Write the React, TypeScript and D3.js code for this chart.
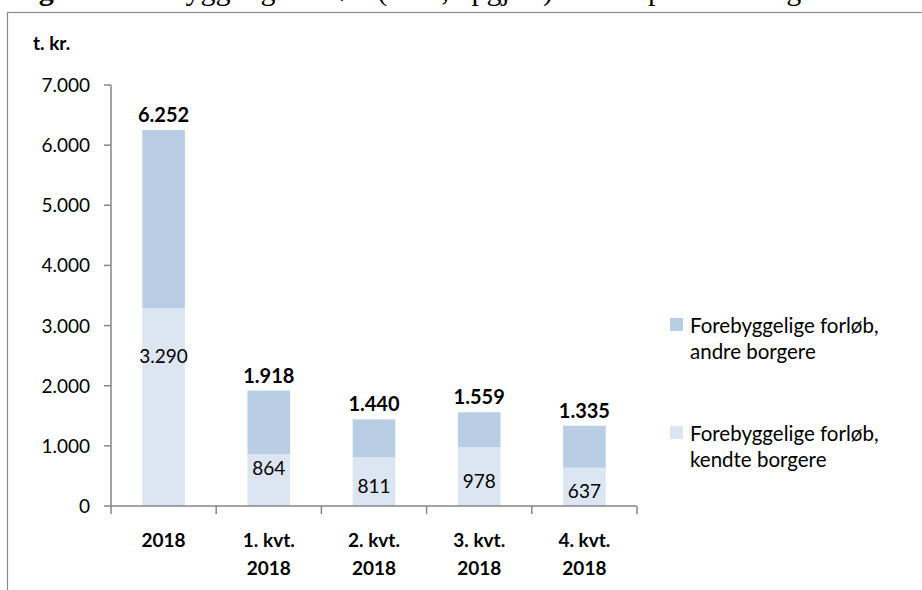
import React from "react";
import * as d3 from "d3";

// Udgifter til forebyggelige forløb, t. kr.
const categoryLines: string[][] = [
  ["2018"],
  ["1. kvt.", "2018"],
  ["2. kvt.", "2018"],
  ["3. kvt.", "2018"],
  ["4. kvt.", "2018"],
];
const kendteBorgere = [3290, 864, 811, 978, 637];
const andreBorgere = [2962, 1054, 629, 581, 698];
const yTicks = [0, 1000, 2000, 3000, 4000, 5000, 6000, 7000];

const legendLines = [
  ["Forebyggelige forløb,", "andre borgere"],
  ["Forebyggelige forløb,", "kendte borgere"],
];

// Manual vertical nudges of the inner value labels (px)
const innerLabelNudge = [-55, -16, 0, 0, 0];

const W = 922;
const H = 590;
const FONT = "Lato, 'Open Sans', sans-serif";
const DARK = "#B9CDE5";
const LIGHT = "#DCE6F2";
const AXIS = "#868686";

const da = d3.formatLocale({
  decimal: ",",
  thousands: ".",
  grouping: [3],
  currency: ["", " kr."],
});
const fmt = da.format(",d");

export default function App() {
  const keys = categoryLines.map((l) => l.join(" "));
  const x = d3.scaleBand<string>().domain(keys).range([111, 637]).padding(0);
  const y = d3.scaleLinear().domain([0, 7000]).range([506, 85]);
  const barW = x.bandwidth() * 0.405;
  const totals = kendteBorgere.map((v, i) => v + andreBorgere[i]);

  return (
    <svg
      width={W}
      height={H}
      style={{ position: "absolute", left: 0, top: 0, background: "#fff" }}
      fontFamily={FONT}
    >
      <rect x={0} y={0} width={W} height={H} fill="#fff" />
      {/* Figure caption, running above the top of the page */}
      <text x={12} y={-0.5} fontFamily="'Liberation Serif', serif" fontSize={30} fill="#000">
        <tspan fontWeight="bold">Figur 5</tspan>
        <tspan dx={10}>Forebyggelige forløb (t. kr., opgjort) fordelt på kendte og andre borgere, 2018</tspan>
      </text>
      {/* chart frame */}
      <rect x={7.5} y={12.5} width={W + 20} height={H + 20} fill="none" stroke="#8a8a8a" strokeWidth={1.2} />

      <text x={33} y={50} fontSize={19} fontWeight="bold" fill="#000">
        t. kr.
      </text>

      {/* y axis */}
      <line x1={111} x2={111} y1={y(7000)} y2={y(0)} stroke={AXIS} strokeWidth={1.5} />
      {yTicks.map((t) => (
        <g key={t}>
          <line x1={104} x2={111} y1={y(t)} y2={y(t)} stroke={AXIS} strokeWidth={1.5} />
          <text x={90} y={y(t) + 7} textAnchor="end" fontSize={19} fill="#000">
            {fmt(t)}
          </text>
        </g>
      ))}

      {/* bars */}
      {keys.map((k, i) => {
        const cx = (x(k) as number) + x.bandwidth() / 2;
        const yK = y(kendteBorgere[i]);
        const yT = y(totals[i]);
        return (
          <g key={k}>
            <rect x={cx - barW / 2} y={yK} width={barW} height={y(0) - yK} fill={LIGHT} />
            <rect x={cx - barW / 2} y={yT} width={barW} height={yK - yT} fill={DARK} />
            <text x={cx} y={yT - 8} textAnchor="middle" fontSize={20} fontWeight="bold" fill="#000">
              {fmt(totals[i])}
            </text>
            <text
              x={cx}
              y={(yK + y(0)) / 2 + 11 + innerLabelNudge[i]}
              textAnchor="middle"
              fontSize={19}
              fill="#000"
            >
              {fmt(kendteBorgere[i])}
            </text>
          </g>
        );
      })}

      {/* x axis */}
      <line x1={111} x2={637} y1={y(0)} y2={y(0)} stroke={AXIS} strokeWidth={1.5} />
      {[...keys.map((k) => x(k) as number), 637].map((tx, i) => (
        <line key={i} x1={tx} x2={tx} y1={y(0)} y2={y(0) + 8} stroke={AXIS} strokeWidth={1.5} />
      ))}
      {keys.map((k, i) => {
        const cx = (x(k) as number) + x.bandwidth() / 2;
        return (
          <text key={k} x={cx} textAnchor="middle" fontSize={19} fontWeight="bold" fill="#000">
            {categoryLines[i].map((ln, j) => (
              <tspan key={j} x={cx} y={547 + j * 28}>
                {ln}
              </tspan>
            ))}
          </text>
        );
      })}

      {/* legend */}
      {legendLines.map((lines, i) => {
        const top = 318 + i * 108;
        return (
          <g key={i}>
            <rect x={670} y={top} width={13} height={13} fill={i === 0 ? DARK : LIGHT} />
            {lines.map((ln, j) => (
              <text key={j} x={690} y={top + 15 + j * 26} fontSize={20.5} fill="#000">
                {ln}
              </text>
            ))}
          </g>
        );
      })}
    </svg>
  );
}
